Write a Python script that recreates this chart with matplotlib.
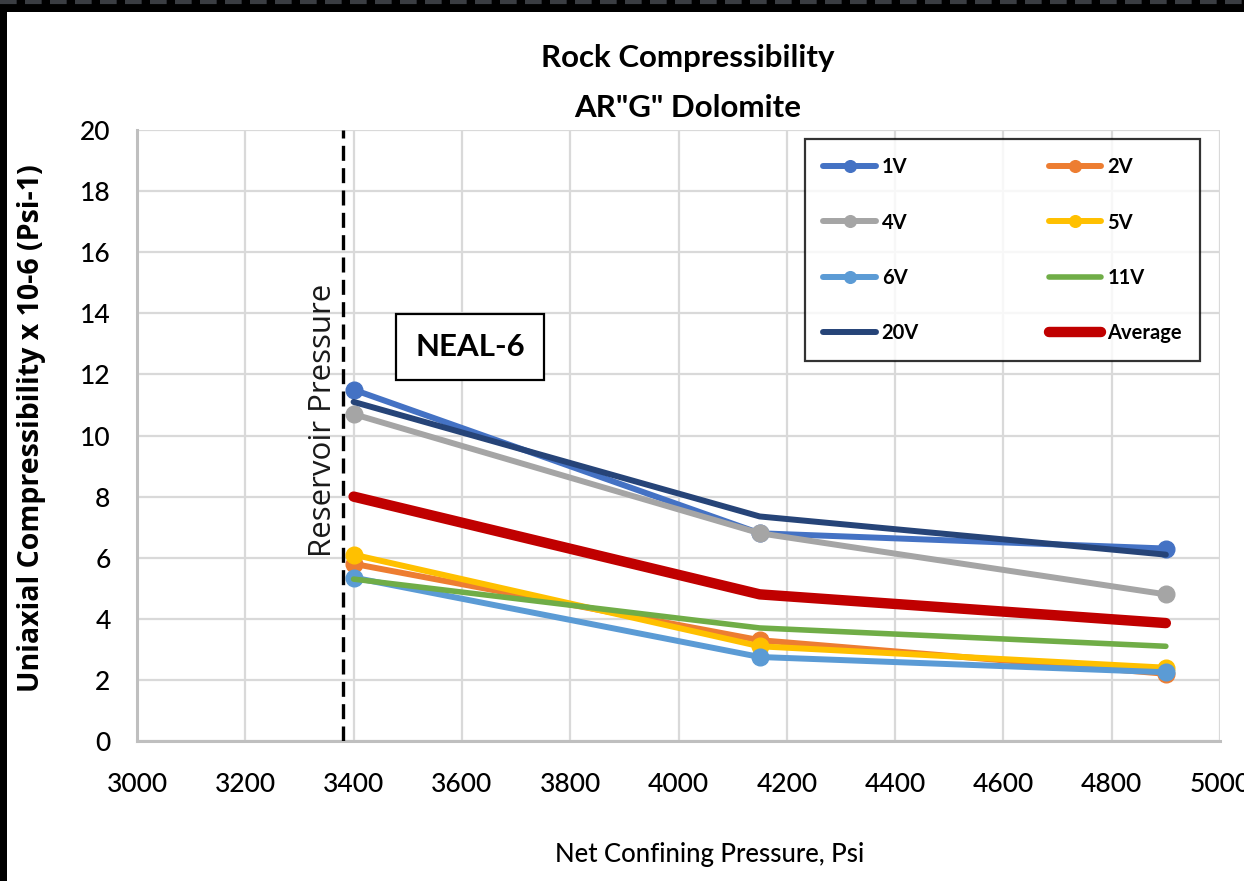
import matplotlib
matplotlib.use("Agg")
import matplotlib.pyplot as plt
from matplotlib.patches import Rectangle
from matplotlib.lines import Line2D

# Net confining pressure steps (psi)
pressure = [3400, 4150, 4900]

# Uniaxial compressibility (x 1e-6 psi^-1) per sample
c_1v = [11.5, 6.8, 6.3]
c_2v = [5.8, 3.3, 2.2]
c_4v = [10.7, 6.8, 4.8]
c_5v = [6.1, 3.1, 2.4]
c_6v = [5.35, 2.75, 2.25]
c_11v = [5.3, 3.7, 3.1]
c_20v = [11.1, 7.35, 6.1]
c_avg = [8.0, 4.8, 3.86]

reservoir_pressure = 3380

x_ticks = [3000, 3200, 3400, 3600, 3800, 4000, 4200, 4400, 4600, 4800, 5000]
y_ticks = [0, 2, 4, 6, 8, 10, 12, 14, 16, 18, 20]

BODY = ["Lato", "DejaVu Sans"]
UI = ["Open Sans", "DejaVu Sans"]

W, H = 1244, 881
fig = plt.figure(figsize=(W / 100, H / 100), dpi=100)
fig.patch.set_facecolor("white")

# axes placement in pixels
x0, x1, y0, y1 = 137, 1220, 130, 741
ax = fig.add_axes([x0 / W, 1 - y1 / H, (x1 - x0) / W, (y1 - y0) / H])

series = [
    ("1V", c_1v, "#4472C4", True, 4.3),
    ("2V", c_2v, "#ED7D31", True, 4.3),
    ("4V", c_4v, "#A5A5A5", True, 4.3),
    ("5V", c_5v, "#FFC000", True, 4.3),
    ("6V", c_6v, "#5B9BD5", True, 4.3),
    ("11V", c_11v, "#70AD47", False, 4.0),
    ("20V", c_20v, "#264478", False, 4.3),
    ("Average", c_avg, "#C00000", False, 7.5),
]

handles = {}
for name, vals, color, mark, lw in series:
    (ln,) = ax.plot(pressure, vals, color=color, lw=lw,
                    marker="o" if mark else None, markersize=12,
                    solid_capstyle="round", solid_joinstyle="round",
                    label=name, zorder=3)
    handles[name] = ln

# reservoir pressure marker line
ax.axvline(reservoir_pressure, color="black", lw=2.4, linestyle=(0, (4.5, 2.2)), zorder=4)
ax.text(3343, 10.5, "Reservoir Pressure", rotation=90, ha="center", va="center",
        fontsize=22.5, family=UI, color="#1a1a1a", zorder=5)

# well name box
ax.text(3615, 12.9, "NEAL-6", ha="center", va="center", fontsize=22.5,
        family=BODY, fontweight="bold", zorder=5,
        bbox=dict(boxstyle="square,pad=0.6", facecolor="white",
                  edgecolor="black", linewidth=1.6))

ax.set_xlim(3000, 5000)
ax.set_ylim(0, 20)
ax.set_xticks(x_ticks)
ax.set_yticks(y_ticks)
ax.grid(True, color="#D9D9D9", lw=1.6, zorder=0)
ax.set_axisbelow(True)
for s in ["top", "right"]:
    ax.spines[s].set_visible(False)
for s in ["left", "bottom"]:
    ax.spines[s].set_color("#BFBFBF")
    ax.spines[s].set_linewidth(2.2)
ax.tick_params(axis="both", length=0, labelsize=19, colors="black")
ax.tick_params(axis="x", pad=22)
ax.tick_params(axis="y", pad=19)
for lab in ax.get_xticklabels() + ax.get_yticklabels():
    lab.set_family(BODY)
    lab.set_fontweight("medium")

# legend laid out row-wise in two columns
order = ["1V", "4V", "6V", "20V", "2V", "5V", "11V", "Average"]
leg = ax.legend([handles[k] for k in order], order, ncol=2,
                loc="upper left", bbox_to_anchor=(0.617, 0.985, 0.3645, 0.0),
                mode="expand", frameon=True, fancybox=False,
                prop=dict(family=BODY, size=14.5, weight="bold"),
                handlelength=2.6, handletextpad=0.3, labelspacing=1.75,
                borderpad=0.9, borderaxespad=0.0, columnspacing=1.0,
                markerscale=0.7)
leg.get_frame().set_edgecolor("black")
leg.get_frame().set_linewidth(1.6)
leg.set_zorder(6)

# titles and axis labels
fig.text(688 / W, 1 - 67 / H, "Rock Compressibility", ha="center", va="baseline",
         fontsize=22.5, family=BODY, fontweight="bold")
fig.text(688 / W, 1 - 117 / H, 'AR"G" Dolomite', ha="center", va="baseline",
         fontsize=22.5, family=BODY, fontweight="bold")
fig.text(710 / W, 1 - 862 / H, "Net Confining Pressure, Psi", ha="center", va="baseline",
         fontsize=18.5, family=BODY, fontweight="medium")
fig.text(32 / W, 1 - 428 / H, "Uniaxial Compressibility x 10-6 (Psi-1)", rotation=90,
         ha="center", va="center", fontsize=20.5, family=UI, fontweight="bold")

# dark window frame along the top and left edges
fig.add_artist(Rectangle((0, 1 - 12 / H), 1, 12 / H, transform=fig.transFigure,
                         facecolor="black", edgecolor="none", zorder=10))
fig.add_artist(Rectangle((0, 0), 7 / W, 1, transform=fig.transFigure,
                         facecolor="black", edgecolor="none", zorder=10))
fig.add_artist(Line2D([0, 1], [1 - 2 / H, 1 - 2 / H], transform=fig.transFigure,
                      color="#3a3d42", lw=3, linestyle=(0, (4, 2)), zorder=11))

fig.savefig("out.png", dpi=100, facecolor="white")
